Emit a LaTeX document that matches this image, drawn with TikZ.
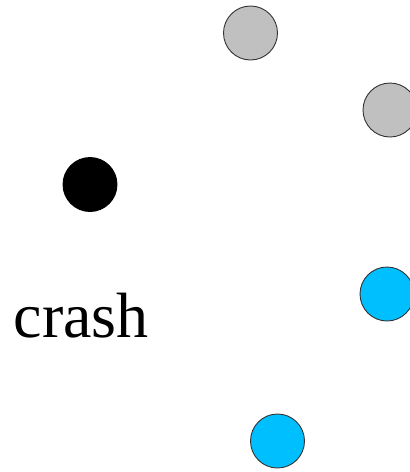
\documentclass[tikz,border=0pt]{standalone}
\usepackage{fontspec}
\setmainfont{Liberation Serif}
\definecolor{ballgray}{HTML}{C0C0C0}
\definecolor{ballblue}{HTML}{00BFFF}
\tikzset{
  ball/.style={circle, draw=black!80, line width=0.9pt, minimum size=54pt, inner sep=0pt},
  idle/.style={ball, fill=ballgray},
  live/.style={ball, fill=ballblue},
  dead/.style={ball, fill=black, draw=black},
}

\begin{document}
\begin{tikzpicture}[x=1pt, y=-1pt]
  \useasboundingbox (0,0) rectangle (410,472);
  \node[idle] (g1) at (250.5, 33) {};
  \node[idle] (g2) at (390, 110) {};
  \node[dead] (k1) at (90, 184.5) {};
  \node[live] (s1) at (387, 294) {};
  \node[live] (s2) at (277.5, 441) {};
  \node[anchor=base west, inner sep=0pt, font=\fontsize{64}{70}\selectfont] (crash) at (13.5, 337) {crash};
\end{tikzpicture}
\end{document}
